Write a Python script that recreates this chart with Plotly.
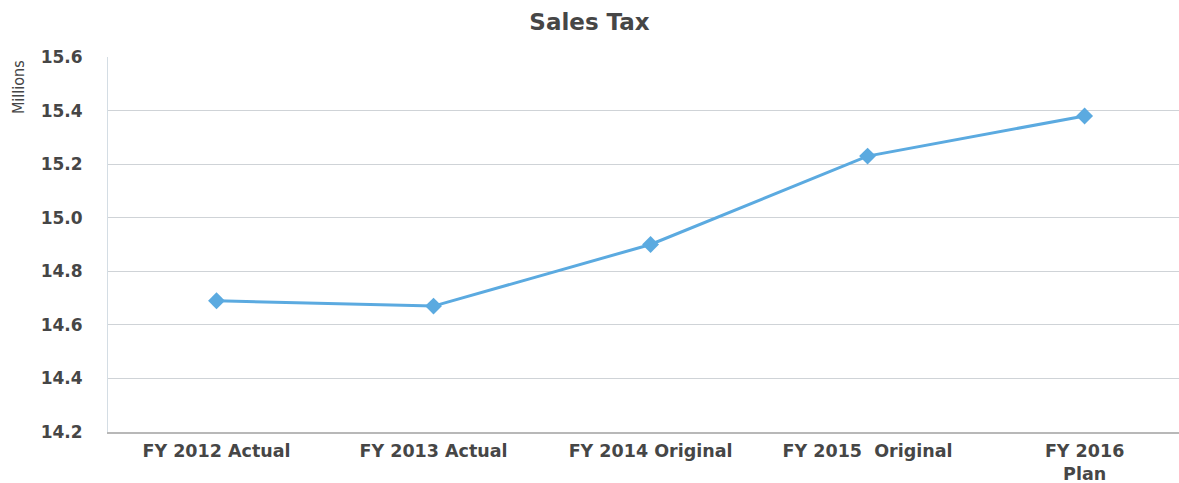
import plotly.graph_objects as go

categories = ["FY 2012 Actual", "FY 2013 Actual", "FY 2014 Original", "FY 2015  Original", "FY 2016<br>Plan"]
sales_tax = [14.69, 14.67, 14.90, 15.23, 15.38]
y_ticks = [14.2, 14.4, 14.6, 14.8, 15.0, 15.2, 15.4, 15.6]

line_color = "#5BAAE0"
text_color = "#464646"
label_font = "DejaVu Sans, Liberation Sans, Arial, sans-serif"

fig = go.Figure()
fig.add_trace(go.Scatter(
    x=list(range(len(categories))),
    y=sales_tax,
    mode="lines+markers",
    line=dict(color=line_color, width=3),
    marker=dict(symbol="diamond", size=13, color=line_color),
    hoverinfo="y",
))

fig.update_layout(
    width=1179, height=483,
    margin=dict(l=108, r=0, t=57, b=51),
    paper_bgcolor="white", plot_bgcolor="white",
    showlegend=False,
    font=dict(family=label_font, color=text_color),
    title=dict(text="<b>Sales Tax</b>", x=0.5, xanchor="center", y=0.955, yanchor="middle",
               font=dict(size=23, color=text_color)),
    xaxis=dict(
        range=[-0.5, 4.435],
        tickmode="array",
        tickvals=list(range(len(categories))),
        ticktext=[f"<b>{c}</b>" for c in categories],
        tickfont=dict(size=17.5, color=text_color),
        showgrid=False, zeroline=False,
        showline=True, linecolor="#b8b8b8", linewidth=1.5,
        ticks="", ticklabelstandoff=2,
        automargin=False,
    ),
    yaxis=dict(
        range=[14.2, 15.6],
        tickmode="array",
        tickvals=y_ticks,
        ticktext=[f"<b>{v:.1f}</b>" for v in y_ticks],
        tickfont=dict(size=17, color=text_color),
        showgrid=True, gridcolor="#cfd3d7", gridwidth=1,
        zeroline=False,
        showline=True, linecolor="#d4dde4", linewidth=1,
        ticks="", ticklabelstandoff=21,
        automargin=False,
    ),
    annotations=[dict(
        text="Millions", textangle=-90,
        xref="paper", yref="paper", x=-0.083, y=0.92,
        xanchor="center", yanchor="middle", showarrow=False,
        font=dict(family="Liberation Sans Narrow, DejaVu Sans Condensed, sans-serif", size=16, color=text_color),
    )],
)

fig.write_html("out.html")
